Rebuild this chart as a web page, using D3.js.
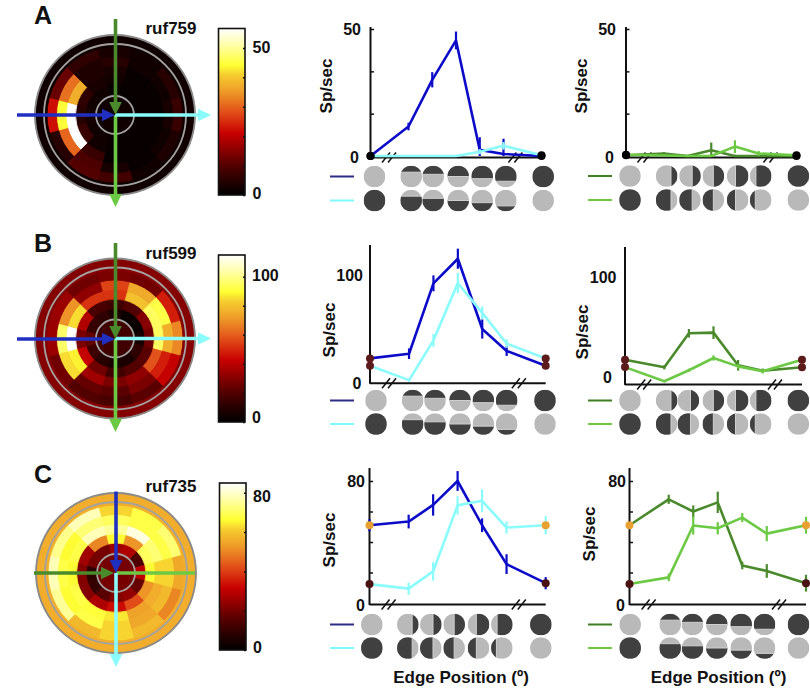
<!DOCTYPE html>
<html><head><meta charset="utf-8">
<script src="https://cdn.jsdelivr.net/npm/d3@7"></script>
<style>html,body{margin:0;padding:0;background:#fff}svg{display:block}text{font-family:"Liberation Sans",Arial,sans-serif;font-weight:bold;fill:#111}</style>
</head><body>
<svg id="c" width="810" height="689"></svg>
<script>
// ---------- Data ----------
const positions = [0, 1.6, 2.6, 3.6, 4.6, 5.6, 7.2];
// Polar maps: rows run centre -> outer, columns run clockwise from north (30 degree sectors)
const heatA = [
 [2,2,2,2,2,2,2,2,2,2,2,2],
 [1,1,1,1,1,1,1,2,2,3,2,2],
 [2,1,1,1,1,1,1,2,7,5,6,3],
 [3,1,1,1,1,1,1,7,56,56,37,4],
 [5,2,2,3,2,1,3,9,30,44,31,4],
 [3,2,5,7,4,2,8,10,5,22,12,6],
 [2,2,2,2,2,2,2,2,2,2,2,2]];
const heatB = [
 [16,16,16,16,16,16,16,16,16,16,16,16],
 [8,3,3,6,12,7,7,10,15,24,14,12],
 [16,20,30,26,22,20,16,26,42,28,38,18],
 [52,80,95,95,58,32,28,35,88,118,85,52],
 [55,75,92,76,48,28,22,24,85,96,70,32],
 [28,26,48,68,42,22,18,20,26,34,34,26],
 [30,30,30,30,30,30,30,30,30,30,30,30]];
const heatC = [
 [20,20,20,20,20,20,20,20,20,20,20,20],
 [26,28,14,30,18,24,22,16,10,9,20,20],
 [66,52,70,66,52,42,33,28,22,22,26,50],
 [75,82,72,62,56,54,64,67,68,66,68,78],
 [70,68,68,62,58,55,62,68,66,68,66,72],
 [62,68,72,55,50,58,62,58,75,78,74,78],
 [56,56,56,56,56,56,56,56,56,56,56,56]];
const barTicksA = [0,10,20,30,40,50], barTicksB = [0,20,40,60,80,100], barTicksC = [0,20,40,60,80];
const barLabelsA = [50,0], barLabelsB = [100,0], barLabelsC = [80,0];
const titles = ["ruf759","ruf599","ruf735"];
const panelLetters = ["A","B","C"];

const blueA = [0,11.6,30,45.5,2.4,0.8,0],   blueErrA = [0,1.5,3,3.5,5,6,1];
const cyanA = [0,0,0,0,1.7,4,0.3],          cyanErrA = [0,0,0,0,1,1.5,0.5];
const darkA = [0.3,1,0,2.3,0,0,0],          darkErrA = [0,0.5,0,3,0.5,0,0];
const lightA = [0.5,0.2,0,0,3.7,1,0.3],     lightErrA = [0,0,0,0,2.5,1,0];
const blueB = [22,26.4,92.8,116,49.7,29,15],   blueErrB = [0,5,7.5,9.5,9,4.7,0];
const cyanB = [15,1.5,39,93,65,36,22],         cyanErrB = [0,1.5,6,9.5,6,4,0];
const darkB = [22,14.8,46.9,47.5,16.7,11.6,14.8], darkErrB = [0,2,4,6,5,2,0];
const lightB = [15,1.6,12,23.6,15.7,11,22],    lightErrB = [0,1,1.5,2.5,2,2,0];
const blueC = [51,53.4,64.3,80,51,25.5,13],    blueErrC = [4,4.5,7,6.5,4.5,6.5,4];
const cyanC = [12.4,9.4,20.7,64,67,49.5,51],   cyanErrC = [2,4,6,6,7.5,4,6];
const darkC = [51,68,60,66,24.6,21,13],        darkErrC = [2,3,4,7,2.5,4.5,5.5];
const lightC = [12.4,16.8,50.8,49,56,45.5,51], lightErrC = [2,2.5,6,4,3,5,5.5];
const stimFracTop = [0.3,0.4,0.5,0.6,0.72];
const stimFracBottom = [0.7,0.6,0.5,0.4,0.25];

// ---------- Layout and style ----------
const BLUE="#0c0cc8", CYAN="#8afcfc", DARK="#4a8a2c", LIGHT="#6cc944";
const LEG_BLUE="#2d2d85", LEG_CYAN="#7ffafa", LEG_DARK="#3f7f23", LEG_LIGHT="#70c840";
const svg = d3.select("#c");
const defs = svg.append("defs");
const heatStops = [[0,"#000000"],[0.1,"#2c0000"],[0.2,"#600000"],[0.37,"#c80000"],[0.5,"#e2501a"],[0.62,"#ee9a28"],[0.72,"#f5cc30"],[0.78,"#ffff33"],[0.9,"#ffffa8"],[1,"#ffffff"]];
const heat01 = d3.scaleLinear().domain(heatStops.map(d=>d[0])).range(heatStops.map(d=>d[1])).clamp(true);
const grad = defs.append("linearGradient").attr("id","heatGrad").attr("x1",0).attr("x2",0).attr("y1",1).attr("y2",0);
heatStops.forEach(s=>grad.append("stop").attr("offset",s[0]).attr("stop-color",s[1]));
const ringEdges = [0,19,30,39.5,49,58.5,68,80];
const arcGen = d3.arc();
const deg = Math.PI/180;

function polar(cx, cy, rows, maxV){
  const g = svg.append("g").attr("transform",`translate(${cx},${cy})`);
  const color = v => heat01(v/maxV);
  g.append("circle").attr("r",80).attr("fill",color(rows[6][0]));
  rows.forEach((row,ri)=>{ row.forEach((v,si)=>{
    g.append("path").attr("d",arcGen({innerRadius:ringEdges[ri],outerRadius:ringEdges[ri+1],startAngle:(si-0.5)*30*deg,endAngle:(si+0.5)*30*deg}))
     .attr("fill",color(v)).attr("stroke",color(v)).attr("stroke-width",0.8);
  });});
  [[80,"#8a8a8a"],[71,"#a2a2a2"],[19,"#a2a2a2"]].forEach(([r,c])=>g.append("circle").attr("r",r).attr("fill","none").attr("stroke",c).attr("stroke-width",1.8));
}
function arrow(x1,y1,x2,y2,color,head=true){
  const a = Math.atan2(y2-y1,x2-x1), L=13, W=6.3;
  const bx=x2-L*Math.cos(a), by=y2-L*Math.sin(a);
  svg.append("line").attr("x1",x1).attr("y1",y1).attr("x2",head?bx:x2).attr("y2",head?by:y2).attr("stroke",color).attr("stroke-width",3.6);
  if(head) svg.append("path").attr("d",d3.line()([[x2,y2],[bx-W*Math.sin(a),by+W*Math.cos(a)],[bx+W*Math.sin(a),by-W*Math.cos(a)]])+"Z").attr("fill",color);
}
function colorbar(x,y0,y1,maxV,ticks,labels,labelYs,labelX){
  const w=26.5;
  const s=d3.scaleLinear().domain([0,maxV]).range([y1,y0]);
  svg.append("rect").attr("x",x).attr("y",y0).attr("width",w).attr("height",y1-y0).attr("fill","url(#heatGrad)").attr("stroke","#111").attr("stroke-width",1.6);
  const ax=d3.axisLeft(s).tickValues(ticks).tickSize(2).tickFormat("");
  const g=svg.append("g").attr("transform",`translate(${x+w},0)`).call(ax);
  g.select(".domain").remove(); g.selectAll("line").attr("stroke","#111").attr("stroke-width",1.5);
  labels.forEach((t,i)=>svg.append("text").attr("x",labelX).attr("y",labelYs[i]).attr("dominant-baseline","central").attr("font-size",16).text(t));
}
let clipId=0;
function stim(cx,cy,type,frac,color1Top){
  const r=10.8, DK="#404040", LT="#b9b9b9";
  const id="cl"+(clipId++);
  defs.append("clipPath").attr("id",id).append("circle").attr("cx",cx).attr("cy",cy).attr("r",r);
  const g=svg.append("g").attr("clip-path",`url(#${id})`);
  g.append("rect").attr("x",cx-r).attr("y",cy-r).attr("width",2*r).attr("height",2*r).attr("fill",LT);
  const d=2*r*frac;
  let rx,ry,rw,rh;
  if(type==="h"){ rx=cx-r; rw=2*r; rh=d; ry=color1Top?cy-r:cy+r-d; }
  else { ry=cy-r; rh=2*r; rw=d; rx=color1Top?cx+r-d:cx-r; }
  g.append("rect").attr("x",rx).attr("y",ry).attr("width",rw).attr("height",rh).attr("fill",DK);
  if(frac>0&&frac<1){
    if(type==="h"){const yy=color1Top?ry+rh:ry; g.append("line").attr("x1",cx-r).attr("x2",cx+r).attr("y1",yy).attr("y2",yy).attr("stroke","#cfcfcf").attr("stroke-width",1);}
    else {const xx=color1Top?rx:rx+rw; g.append("line").attr("y1",cy-r).attr("y2",cy+r).attr("x1",xx).attr("x2",xx).attr("stroke","#cfcfcf").attr("stroke-width",1);}
  }
}
function chart(o){
  const x=d3.scaleLinear().domain([0,7.2]).range([o.x0,o.x1]);
  const y=d3.scaleLinear().domain([0,o.tickV]).range([o.y0,o.yT]);
  const ya=d3.axisRight(y).tickValues(o.ticks).tickSize(o.ticks.length?3.5:0).tickFormat("");
  const gy=svg.append("g").attr("transform",`translate(${o.x0},0)`).call(ya);
  gy.select(".domain").remove(); gy.selectAll("line").attr("stroke","#111").attr("stroke-width",1.5);
  svg.append("line").attr("x1",o.x0).attr("x2",o.x0).attr("y1",o.top).attr("y2",o.y0+2).attr("stroke","#111").attr("stroke-width",2);
  svg.append("line").attr("x1",o.x0).attr("x2",o.x1).attr("y1",o.y0+1.5).attr("y2",o.y0+1.5).attr("stroke","#111").attr("stroke-width",2);
  [0.78,6.1].forEach(p=>[-3,3].forEach(dx=>{
    const bx=x(p)+dx;
    svg.append("line").attr("x1",bx-4).attr("y1",o.y0+6.5).attr("x2",bx+4).attr("y2",o.y0-3.5).attr("stroke","#111").attr("stroke-width",1.5);
  }));
  const ln=d3.line().x((d,i)=>x(positions[i])).y(d=>y(d));
  o.series.forEach(s=>{
    svg.append("path").attr("d",ln(s.v)).attr("fill","none").attr("stroke",s.c).attr("stroke-width",2.6).attr("stroke-linejoin","round");
    s.e.forEach((e,i)=>{ if(e>0) svg.append("line").attr("x1",x(positions[i])).attr("x2",x(positions[i])).attr("y1",y(Math.max(s.v[i]-e,0))).attr("y2",y(s.v[i]+e)).attr("stroke",s.c).attr("stroke-width",2.2); });
  });
  o.series.forEach(s=>[0,6].forEach(i=>{
    svg.append("circle").attr("cx",x(positions[i])).attr("cy",y(s.v[i])).attr("r",4).attr("fill",o.dot(s.v[i]));
  }));
  o.labels.forEach(l=>svg.append("text").attr("x",l.x).attr("y",l.y).attr("text-anchor","end").attr("dominant-baseline","central").attr("font-size",16).text(l.t));
  svg.append("text").attr("transform",`translate(${o.spX},${o.spY}) rotate(-90)`).attr("text-anchor","middle").attr("dominant-baseline","central").attr("font-size",17).text("Sp/sec");
  o.series.forEach((s,k)=>svg.append("line").attr("x1",o.legX).attr("x2",o.legX+24).attr("y1",o.rows[k]).attr("y2",o.rows[k]).attr("stroke",s.lc).attr("stroke-width",2));
  o.stimX.forEach((sx,i)=>{
    const cx=o.x0+sx/3;
    if(i===0){ stim(cx,o.rows[0],"h",0,true); stim(cx,o.rows[1],"h",1,true); }
    else if(i===6){ stim(cx,o.rows[0],"h",1,true); stim(cx,o.rows[1],"h",0,true); }
    else { stim(cx,o.rows[0],o.type,stimFracTop[i-1],true); stim(cx,o.rows[1],o.type,stimFracBottom[i-1],false); }
  });
  if(o.xlabel) svg.append("text").attr("x",o.xlabel).attr("y",677).attr("text-anchor","middle").attr("dominant-baseline","central").attr("font-size",17).text("Edge Position (º)");
}

// ---------- Panels ----------
polar(115,115,heatA,56); polar(115,338.5,heatB,115); polar(116,573,heatC,85);

arrow(115.5,115,115.5,207,LIGHT); arrow(115,115,211,115,CYAN); arrow(115.5,19,115.5,115,DARK); arrow(17,115,115,115,"#1f2fc0");
arrow(115.5,338.5,115.5,432,LIGHT); arrow(115,338.5,211,338.5,CYAN); arrow(115.5,243,115.5,339,DARK); arrow(17,339,115,339,"#1f2fc0");
arrow(116,573,195,573,LIGHT,false); arrow(116,573,116,667,CYAN); arrow(34,573,114,573,DARK); arrow(116,491.5,116,573,"#1f2fc0");

colorbar(218.5,28.5,195,56.6,barTicksA,barLabelsA,[47.5,193],252.5);
colorbar(218.5,255,422,115,barTicksB,barLabelsB,[275,417],252);
colorbar(219.5,483,650,85,barTicksC,barLabelsC,[496,647],253);

panelLetters.forEach((t,i)=>svg.append("text").attr("x",34).attr("y",[23.5,251.5,482.5][i]).attr("font-size",25).text(t));
titles.forEach((t,i)=>svg.append("text").attr("x",145.5).attr("y",[28,253,486][i]).attr("dominant-baseline","central").attr("font-size",17).text(t));

const blackDot=()=>"#000";
const brown=()=>"#5c1a1a";
const orangeDark=v=>v>30?"#e8a030":"#4a1212";

chart({x0:370.5,x1:541.5,y0:156,yT:29,tickV:50,top:27,ticks:[16.67,33.33,50],dot:blackDot,type:"h",
  series:[{v:blueA,e:blueErrA,c:BLUE,lc:LEG_BLUE},{v:cyanA,e:cyanErrA,c:CYAN,lc:LEG_CYAN}],
  labels:[{t:"50",x:361,y:29},{t:"0",x:359,y:157}],spX:326.5,spY:86,legX:330,rows:[176.5,200.5],stimX:[12,122,188,263,335,406,518]});
chart({x0:626,x1:796.5,y0:156,yT:29,tickV:50,top:27,ticks:[16.67,33.33,50],dot:blackDot,type:"v",
  series:[{v:darkA,e:darkErrA,c:DARK,lc:LEG_DARK},{v:lightA,e:lightErrA,c:LIGHT,lc:LEG_LIGHT}],
  labels:[{t:"50",x:616,y:29},{t:"0",x:614,y:157}],spX:581.5,spY:86,legX:588,rows:[176,200],stimX:[12,122,192,262,335,404,517]});
chart({x0:370,x1:545.7,y0:381.7,yT:275.7,tickV:100,top:245,ticks:[],dot:brown,type:"h",
  series:[{v:blueB,e:blueErrB,c:BLUE,lc:LEG_BLUE},{v:cyanB,e:cyanErrB,c:CYAN,lc:LEG_CYAN}],
  labels:[{t:"100",x:363,y:275.5},{t:"0",x:361.5,y:383}],spX:329,spY:330,legX:330,rows:[400.5,424],stimX:[18,128,195,270,340,410,525]});
chart({x0:625,x1:802,y0:383,yT:277,tickV:100,top:247,ticks:[],dot:brown,type:"v",
  series:[{v:darkB,e:darkErrB,c:DARK,lc:LEG_DARK},{v:lightB,e:lightErrB,c:LIGHT,lc:LEG_LIGHT}],
  labels:[{t:"100",x:616.5,y:277},{t:"0",x:612,y:377.5}],spX:582,spY:332,legX:588,rows:[400.5,424],stimX:[15,125,190,265,338,407,520]});
chart({x0:369.5,x1:545.7,y0:603,yT:481,tickV:80,top:468,ticks:[20,40,60,80],dot:orangeDark,type:"v",
  series:[{v:blueC,e:blueErrC,c:BLUE,lc:LEG_BLUE},{v:cyanC,e:cyanErrC,c:CYAN,lc:LEG_CYAN}],
  labels:[{t:"80",x:365,y:481.5},{t:"0",x:365,y:605}],spX:329,spY:540,legX:330,rows:[624.5,648],stimX:[7,115,184,254,327,397,514],xlabel:461});
chart({x0:629.5,x1:806,y0:603,yT:481,tickV:80,top:468,ticks:[20,40,60,80],dot:orangeDark,type:"h",
  series:[{v:darkC,e:darkErrC,c:DARK,lc:LEG_DARK},{v:lightC,e:lightErrC,c:LIGHT,lc:LEG_LIGHT}],
  labels:[{t:"80",x:626,y:481.5},{t:"0",x:625,y:605}],spX:589,spY:534,legX:588,rows:[624.5,648],stimX:[2,122,189,262,335,405,507],xlabel:718.5});
</script>
</body></html>
